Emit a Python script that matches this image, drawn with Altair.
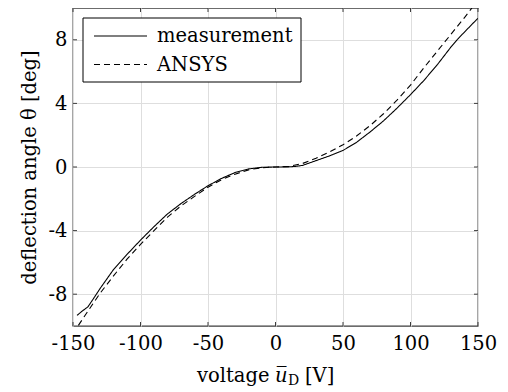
import altair as alt
import pandas as pd

# ---- data ----
meas_v = [-147, -143, -139, -135, -130, -125, -120, -110, -100, -90, -80, -70, -60, -50,
          -40, -30, -20, -10, 0, 10, 15, 20, 30, 40, 50, 60, 70, 80, 90, 100, 110, 120,
          130, 135, 139, 143, 147, 150]
meas_t = [-9.33, -9.05, -8.8, -8.3, -7.65, -7.05, -6.45, -5.5, -4.6, -3.75, -2.95, -2.3,
          -1.72, -1.18, -0.72, -0.35, -0.12, -0.02, 0.0, 0.01, 0.04, 0.1, 0.4, 0.7, 1.04,
          1.55, 2.2, 2.9, 3.7, 4.55, 5.45, 6.45, 7.55, 8.05, 8.4, 8.75, 9.1, 9.35]
ansys_v = [-146, -140, -130, -120, -110, -100, -90, -80, -70, -60, -50, -40, -30, -20,
           -10, 0, 10, 20, 30, 40, 50, 60, 70, 80, 90, 100, 110, 120, 130, 140, 145.5]
ansys_t = [-9.96, -9.2, -7.95, -6.85, -5.8, -4.87, -4.0, -3.15, -2.45, -1.85, -1.27, -0.8,
           -0.45, -0.18, -0.04, 0.0, 0.04, 0.22, 0.55, 0.95, 1.4, 1.95, 2.6, 3.35, 4.2,
           5.15, 6.25, 7.3, 8.35, 9.4, 10.0]
series_names = ["measurement", "ANSYS"]
series_dash = [[1, 0], [6, 4]]
x_ticks = [-150, -100, -50, 0, 50, 100, 150]
y_ticks = [-8, -4, 0, 4, 8]

df = pd.concat([
    pd.DataFrame({"v": meas_v, "t": meas_t, "series": series_names[0]}),
    pd.DataFrame({"v": ansys_v, "t": ansys_t, "series": series_names[1]}),
])

W, H = 405, 318
FONT = "DejaVu Serif"
FS = 19.5
FRAME = "#3c3c3c"
TL = 4
LABEL_EXPR = "datum.value < 0 ? '-' + abs(datum.value) : '' + datum.value"

xscale = alt.Scale(domain=[-150, 150], nice=False, zero=False)
yscale = alt.Scale(domain=[-10, 10], nice=False, zero=False)

xaxis = alt.Axis(values=x_ticks, title=None, grid=True, ticks=False, domain=False,
                 labelFont=FONT, labelFontSize=FS, labelColor="black",
                 labelPadding=8, labelFlush=False, gridColor="#dedede",
                 gridWidth=1, labelExpr=LABEL_EXPR)
yaxis = alt.Axis(values=y_ticks, title="deflection angle θ [deg]", grid=True,
                 ticks=False, domain=False, labelFont=FONT, labelFontSize=FS,
                 labelColor="black", labelPadding=6, labelFlush=False,
                 gridColor="#dedede", gridWidth=1, labelExpr=LABEL_EXPR,
                 titleFont=FONT, titleFontSize=FS, titleFontWeight="normal",
                 titleColor="black", titlePadding=9)

lines = alt.Chart(df).mark_line(color="black", strokeWidth=1.1, clip=True).encode(
    x=alt.X("v:Q", scale=xscale, axis=xaxis),
    y=alt.Y("t:Q", scale=yscale, axis=yaxis),
    strokeDash=alt.StrokeDash("series:N",
                              scale=alt.Scale(domain=series_names, range=series_dash),
                              legend=None),
)

xt = pd.DataFrame({"v": x_ticks})
yt = pd.DataFrame({"t": y_ticks})
xenc = alt.X("v:Q", scale=xscale, axis=xaxis)
yenc = alt.Y("t:Q", scale=yscale, axis=yaxis)

tick_b = alt.Chart(xt).mark_rule(color=FRAME, strokeWidth=1).encode(
    x=xenc, y=alt.value(H), y2=alt.value(H - TL))
tick_t = alt.Chart(xt).mark_rule(color=FRAME, strokeWidth=1).encode(
    x=xenc, y=alt.value(0), y2=alt.value(TL))
tick_l = alt.Chart(yt).mark_rule(color=FRAME, strokeWidth=1).encode(
    y=yenc, x=alt.value(0), x2=alt.value(TL))
tick_r = alt.Chart(yt).mark_rule(color=FRAME, strokeWidth=1).encode(
    y=yenc, x=alt.value(W), x2=alt.value(W - TL))


def one(s):
    return alt.Chart(pd.DataFrame({"s": [s]}))


# legend (box, line samples, labels)
LX, LY, LW, LH = 10, 10, 218, 64
ROW1, ROW2 = LY + 18, LY + 46.5
leg_box = one("box").mark_rect(fill="white", stroke="black", strokeWidth=1).encode(
    x=alt.value(LX), x2=alt.value(LX + LW), y=alt.value(LY), y2=alt.value(LY + LH))
leg_l1 = one(series_names[0]).mark_rule(color="black", strokeWidth=1.1,
                                         strokeDash=series_dash[0]).encode(
    x=alt.value(LX + 11), x2=alt.value(LX + 64), y=alt.value(ROW1))
leg_l2 = one(series_names[1]).mark_rule(color="black", strokeWidth=1.1,
                                         strokeDash=series_dash[1]).encode(
    x=alt.value(LX + 11), x2=alt.value(LX + 64), y=alt.value(ROW2))
leg_t1 = one(series_names[0]).mark_text(font=FONT, fontSize=FS, align="left",
                                         baseline="middle", color="black").encode(
    text="s:N", x=alt.value(LX + 74), y=alt.value(ROW1))
leg_t2 = one(series_names[1]).mark_text(font=FONT, fontSize=FS, align="left",
                                         baseline="middle", color="black").encode(
    text="s:N", x=alt.value(LX + 74), y=alt.value(ROW2))

# x-axis title: voltage u̅_D [V]
TY = H + 56
t1 = one("voltage").mark_text(
    font=FONT, fontSize=FS, align="left", baseline="alphabetic", color="black").encode(
    text="s:N", x=alt.value(124), y=alt.value(TY))
t2 = one("u\u0305").mark_text(
    font=FONT, fontSize=FS, fontStyle="italic", align="left", baseline="alphabetic",
    color="black").encode(text="s:N", x=alt.value(202), y=alt.value(TY))
t3 = one("D").mark_text(
    font=FONT, fontSize=14, align="left", baseline="alphabetic", color="black").encode(
    text="s:N", x=alt.value(215), y=alt.value(TY + 3))
t4 = one("[V]").mark_text(
    font=FONT, fontSize=FS, align="left", baseline="alphabetic", color="black").encode(
    text="s:N", x=alt.value(232), y=alt.value(TY))

chart = alt.layer(lines, tick_b, tick_t, tick_l, tick_r,
                  leg_box, leg_l1, leg_l2, leg_t1, leg_t2,
                  t1, t2, t3, t4).properties(
    width=W, height=H,
    autosize=alt.AutoSizeParams(type="none"),
    padding={"left": 65, "top": 0, "right": 22, "bottom": 66},
).configure_view(stroke=FRAME, strokeWidth=1.3)

chart.save("out.html", embed_options={"renderer": "svg", "actions": False})
